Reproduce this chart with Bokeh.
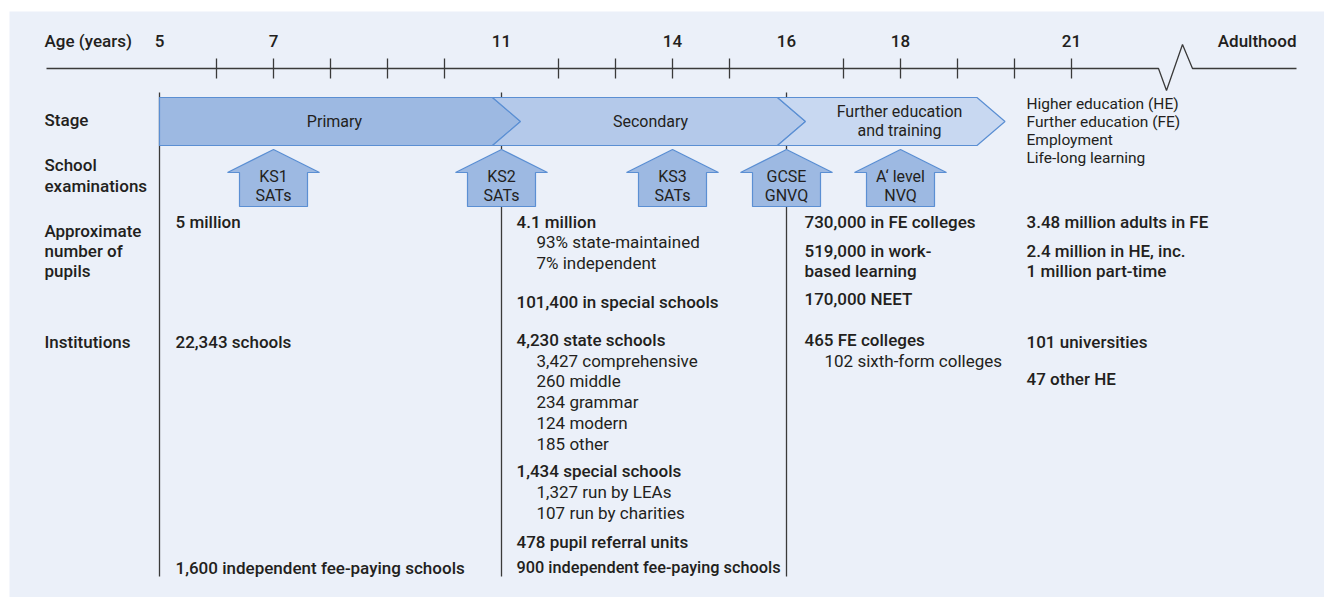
from bokeh.plotting import figure
from bokeh.models import Range1d
from bokeh.core.properties import value
from bokeh.embed import file_html
from bokeh.resources import INLINE

# ---------------- data ----------------
age_labels = [5, 7, 11, 14, 16, 18, 21]
minor_ticks = [6, 7, 8, 9, 10, 12, 13, 14, 15, 17, 18, 19, 20, 21]
divider_ages = [5, 11, 16]
stage_names = ["Primary", "Secondary", "Further education|and training"]
stage_start = [5, 11, 16]
stage_end = [11, 16, 19.5]
exam_names = ["KS1|SATs", "KS2|SATs", "KS3|SATs", "GCSE|GNVQ", "A\u2018 level|NVQ"]
exam_ages = [7, 11, 14, 16, 18]
row_labels = ["Age (years)", "Stage", "School", "examinations",
              "Approximate", "number of", "pupils", "Institutions"]
outcomes = ["Higher education (HE)", "Further education (FE)",
            "Employment", "Life-long learning"]
# (text, bold, indent)
col5 = [("5 million", True, 0), ("22,343 schools", True, 0),
        ("1,600 independent fee-paying schools", True, 0)]
col11 = [("4.1 million", True, 0), ("93% state-maintained", False, 1),
         ("7% independent", False, 1), ("101,400 in special schools", True, 0),
         ("4,230 state schools", True, 0), ("3,427 comprehensive", False, 1),
         ("260 middle", False, 1), ("234 grammar", False, 1),
         ("124 modern", False, 1), ("185 other", False, 1),
         ("1,434 special schools", True, 0), ("1,327 run by LEAs", False, 1),
         ("107 run by charities", False, 1), ("478 pupil referral units", True, 0),
         ("900 independent fee-paying schools", True, 0)]
col16 = [("730,000 in FE colleges", True, 0), ("519,000 in work-", True, 0),
         ("based learning", True, 0), ("170,000 NEET", True, 0),
         ("465 FE colleges", True, 0), ("102 sixth-form colleges", False, 1)]
col21 = [("3.48 million adults in FE", True, 0), ("2.4 million in HE, inc.", True, 0),
         ("1 million part-time", True, 0), ("101 universities", True, 0),
         ("47 other HE", True, 0)]

# ---------------- layout ----------------
W, H = 1324, 597
PX_PER_YEAR = 57.0
X5 = 159.0  # page x of age 5
def a(px):
    return 5 + (px - X5) / PX_PER_YEAR
def d(px):
    return px / PX_PER_YEAR

FONT = "Roboto"
BFONT = "Roboto Medium"
FS = "17px"
INK = "#231f20"
PANEL = "#ebf0f9"
EDGE = "#5b8fd3"
FILLS = ["#9db9e2", "#b4c9ea", "#c8d8f1"]

col5_y = [221, 341, 567]
col11_y = [221, 241, 262, 301, 339, 360, 380, 401, 422, 443, 470, 491, 512, 541, 567]
col16_y = [221, 250, 270, 298, 339, 360]
col21_y = [221, 250, 270, 341, 378]
row_y = [40, 119, 164, 185, 230, 250, 270, 341]
out_y = [103, 121, 139, 157]

p = figure(width=W, height=H, output_backend="svg", toolbar_location=None,
           x_range=Range1d(a(0), a(W)), y_range=Range1d(H, 0),
           min_border=0, outline_line_color=None,
           background_fill_color="white", border_fill_color="white")
p.axis.visible = False
p.grid.visible = False

# panel
p.quad(left=a(9), right=a(W), top=11, bottom=H,
       fill_color=PANEL, line_color=None)

# timeline
zz_x = [a(46), a(1158), a(1166), a(1182), a(1192), a(1296)]
zz_y = [68, 68, 90, 44, 68, 68]
p.line(zz_x, zz_y, line_color="#3a3a3a", line_width=1.3)
p.segment(x0=minor_ticks, x1=minor_ticks, y0=[58] * len(minor_ticks),
          y1=[78] * len(minor_ticks), line_color="#3a3a3a", line_width=1.3)

# vertical dividers
p.segment(x0=divider_ages, x1=divider_ages, y0=[92] * 3, y1=[576] * 3,
          line_color="#3a3a3a", line_width=1.3)

# stage chevrons
TOP, MID, BOT = 97, 121, 145
xs, ys = [], []
for i, (s, e) in enumerate(zip(stage_start, stage_end)):
    if i == 0:
        xs.append([s, e - d(9), e + d(19), e - d(9), s])
        ys.append([TOP, TOP, MID, BOT, BOT])
    else:
        xs.append([s - d(9), e - d(9), e + d(19), e - d(9), s - d(9), s + d(19)])
        ys.append([TOP, TOP, MID, BOT, BOT, MID])
p.patches(xs, ys, fill_color=FILLS, line_color=EDGE, line_width=1.2)

# stage labels
centers = [a(334), a(650), a(899)]
for name, cx in zip(stage_names, centers):
    lines = name.split("|")
    ys0 = [MID] if len(lines) == 1 else [111, 130]
    p.text(x=[cx] * len(lines), y=ys0, text=lines, text_align="center",
           text_baseline="middle", text_font=value(FONT), text_font_size="16px",
           text_color=INK)

# exam arrows
axs, ays = [], []
for ag in exam_ages:
    axs.append([ag, ag + d(46), ag + d(34), ag + d(34), ag - d(34), ag - d(34), ag - d(46)])
    ays.append([149, 172, 172, 206, 206, 172, 172])
p.patches(axs, ays, fill_color=FILLS[0], line_color=EDGE, line_width=1.2)
for name, ag in zip(exam_names, exam_ages):
    l1, l2 = name.split("|")
    p.text(x=[ag, ag], y=[176, 195], text=[l1, l2], text_align="center",
           text_baseline="middle", text_font=value(FONT), text_font_size="16px",
           text_color=INK)

# age labels
p.text(x=age_labels, y=[40] * len(age_labels), text=[str(v) for v in age_labels],
       text_align="center", text_baseline="middle", text_font=value(BFONT),
       text_font_size=FS, text_color=INK)
p.text(x=[a(1296)], y=[40], text=["Adulthood"], text_align="right",
       text_baseline="middle", text_font=value(BFONT), text_font_size=FS,
       text_color=INK)

# row labels
p.text(x=[a(44)] * len(row_labels), y=row_y, text=row_labels, text_align="left",
       text_baseline="middle", text_font=value(BFONT), text_font_size=FS,
       text_color=INK)

# outcomes
p.text(x=[a(1026)] * len(outcomes), y=out_y, text=outcomes, text_align="left",
       text_baseline="middle", text_font=value(FONT), text_font_size="15.5px",
       text_color=INK)

# value columns
def column(items, ys, x0):
    for (t, bold, ind), y in zip(items, ys):
        size = "16.3px" if t.startswith("900 ") else FS
        p.text(x=[a(x0 + 20 * ind)], y=[y], text=[t], text_align="left",
               text_baseline="middle", text_font=value(BFONT if bold else FONT),
               text_font_size=size, text_color=INK)

column(col5, col5_y, 175)
column(col11, col11_y, 516)
column(col16, col16_y, 804)
column(col21, col21_y, 1026)

html = file_html(p, INLINE)
open("out.html", "w").write(html)
